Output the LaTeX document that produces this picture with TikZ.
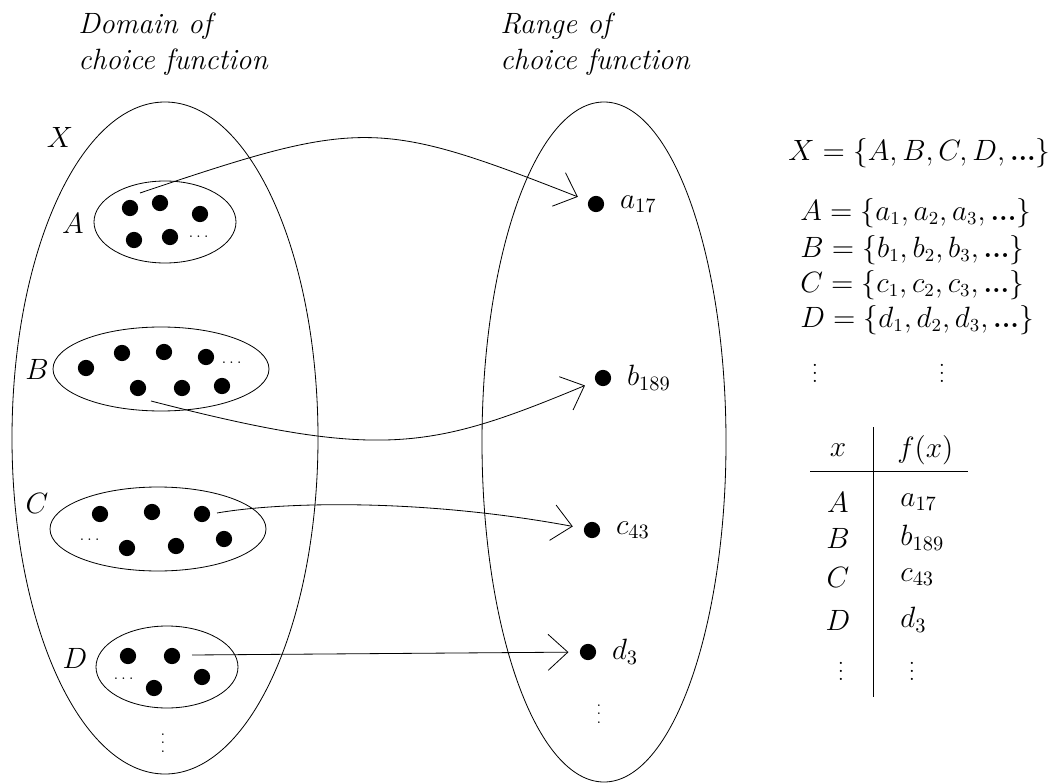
\documentclass[tikz,border=0pt]{standalone}
\usepackage{amsmath}
\usepackage{amssymb}
\usepackage{xcolor}
\usepackage{tikz}
\usetikzlibrary{shapes.geometric, arrows.meta, positioning}

\begin{document}
\begin{tikzpicture}[x=0.01725cm, y=-0.01725cm]
        \tikzstyle{elem} = [circle, fill=black, inner sep=0pt, minimum size=2.8mm]
        \tikzstyle{txt} = [font=\Large, inner sep=0pt]
        \tikzstyle{deftxt} = [font=\fontsize{13.5pt}{16pt}\selectfont, inner sep=0pt, anchor=west]
        \tikzstyle{more} = [font=\scriptsize, inner sep=0pt]
        \tikzstyle{vmore} = [font=\normalsize, inner sep=0pt]
        \tikzstyle{line} = [draw, shorten >=1.9mm, -{Straight Barb[length=3.4mm, width=6.2mm]}]
        \useasboundingbox (0,0) rectangle (1049,784);

        % Titles
        \node [txt, font=\Large\itshape, anchor=north west, align=left] (domtitle) at (78,12) {Domain of\\choice function};
        \node [txt, font=\Large\itshape, anchor=north west, align=left] (rantitle) at (500,12) {Range of\\choice function};

        % Sets
        \draw (165,438) ellipse [x radius=153, y radius=336];
        \draw (604,442) ellipse [x radius=122, y radius=340];
        \draw (165,222) ellipse [x radius=71, y radius=41];
        \draw (161,369) ellipse [x radius=108, y radius=42];
        \draw (158,529) ellipse [x radius=108, y radius=42];
        \draw (167,667) ellipse [x radius=71, y radius=41];
        \node [txt] (labX) at (60,137) {$X$};
        \node [txt] (labA) at (73,223) {$A$};
        \node [txt] (labB) at (37,369) {$B$};
        \node [txt] (labC) at (37,503) {$C$};
        \node [txt] (labD) at (75,658) {$D$};

        % Elements
        \node [elem] at (130,208) {}; \node [elem] at (160,203) {}; \node [elem] at (200,214) {};
        \node [elem] at (134,240) {}; \node [elem] at (170,237) {}; \node [more] at (200,237) {$\dots$};
        \node [elem] at (86,368) {}; \node [elem] at (122,353) {}; \node [elem] at (164,352) {}; \node [elem] at (206,357) {};
        \node [elem] at (138,388) {}; \node [elem] at (182,388) {}; \node [elem] at (222,386) {}; \node [more] at (233,363) {$\dots$};
        \node [elem] at (100,514) {}; \node [elem] at (152,512) {}; \node [elem] at (202,514) {};
        \node [elem] at (127,548) {}; \node [elem] at (176,546) {}; \node [elem] at (224,539) {}; \node [more] at (91,540) {$\dots$};
        \node [elem] at (128,656) {}; \node [elem] at (172,656) {}; \node [elem] at (202,677) {};
        \node [elem] at (154,688) {}; \node [more] at (125,679) {$\dots$};
        \node [more] (domdots) at (163,737) {$\vdots$};

        % Chosen elements
        \node [elem, label={[txt, label distance=2.6mm]right:$a_{17}$}] (a17) at (596,204) {};
        \node [elem, label={[txt, label distance=2.6mm]right:$b_{189}$}] (b189) at (603,378) {};
        \node [elem, label={[txt, label distance=2.6mm]right:$c_{43}$}] (c43) at (592,530) {};
        \node [elem, label={[txt, label distance=2.6mm]right:$d_{3}$}] (d3) at (588,652) {};
        \node [more] (randots) at (599,708) {$\vdots$};

        % Definitions
        \node [deftxt] (defX) at (788,153) {$X = \{A, B, C, D, \textbf{...}\}$};
        \node [deftxt] (defA) at (800,213) {$A = \{a_1, a_2, a_3, \textbf{...}\}$};
        \node [deftxt] (defB) at (800,250) {$B = \{b_1, b_2, b_3, \textbf{...}\}$};
        \node [deftxt] (defC) at (800,285) {$C = \{c_1, c_2, c_3, \textbf{...}\}$};
        \node [deftxt] (defD) at (800,320) {$D = \{d_1, d_2, d_3, \textbf{...}\}$};
        \node [vmore] at (815,367) {$\vdots$};
        \node [vmore] at (942,367) {$\vdots$};

        % Table
        \draw (873,427) -- (873,697);
        \draw (810,471) -- (968,471);
        \node [txt] (hx) at (838,450) {$x$};
        \node [txt, anchor=west] (hf) at (897,450) {$f(x)$};
        \node [txt] at (838,502) {$A$}; \node [txt, anchor=west] at (900,502) {$a_{17}$};
        \node [txt] at (838,538) {$B$}; \node [txt, anchor=west] at (900,538) {$b_{189}$};
        \node [txt] at (838,577) {$C$}; \node [txt, anchor=west] at (900,577) {$c_{43}$};
        \node [txt] at (838,620) {$D$}; \node [txt, anchor=west] at (900,620) {$d_{3}$};
        \node [vmore] at (841,665) {$\vdots$};
        \node [vmore] at (912,665) {$\vdots$};

        % Paths
        \coordinate (fromA) at (140,193);
        \coordinate (fromB) at (151,401);
        \coordinate (fromC) at (217,513);
        \coordinate (fromD) at (192,655);
        \path [line] (fromA) .. controls (360,119) and (377,118) .. (a17);
        \path [line] (fromB) .. controls (380,460) and (430,450) .. (b189);
        \path [line] (fromC) .. controls (280,502) and (420,498) .. (c43);
        \path [line] (fromD) -- (d3);
    \end{tikzpicture}
\end{document}
